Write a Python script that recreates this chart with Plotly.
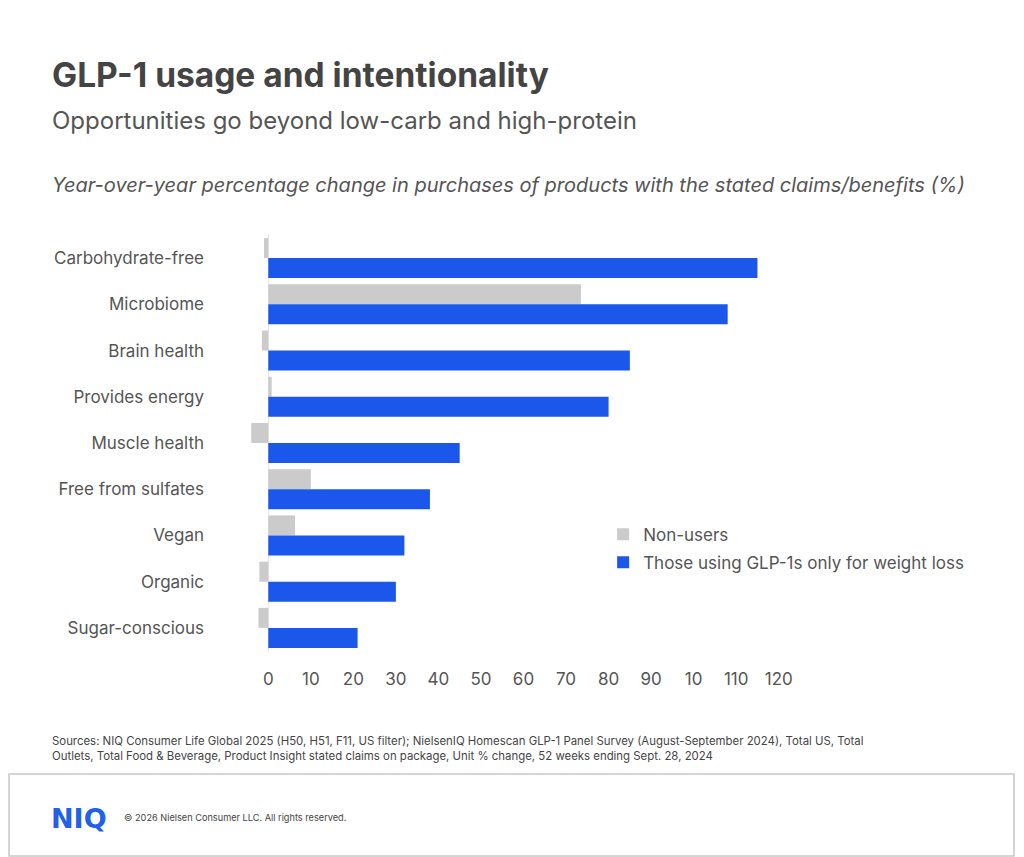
import plotly.graph_objects as go

# claims, top to bottom
categories = [
    "Carbohydrate-free",
    "Microbiome",
    "Brain health",
    "Provides energy",
    "Muscle health",
    "Free from sulfates",
    "Vegan",
    "Organic",
    "Sugar-conscious",
]
non_users = [-1, 73.5, -1.5, 0.8, -4, 10, 6.3, -2.1, -2.3]
glp1_weight_loss = [115, 108, 85, 80, 45, 38, 32, 30, 21]

tick_vals = [0, 10, 20, 30, 40, 50, 60, 70, 80, 90, 100, 110, 120]
tick_text = ["0", "10", "20", "30", "40", "50", "60", "70", "80", "90", "10", "110", "120"]

FONT = "Inter, Roboto, Arial, sans-serif"
GRAY_TXT = "#555555"

# plot area in screen pixels (page body adds an 8px offset)
PL, PB, PW, PH = 247, 651, 553, 416


def px(x):
    return (x - PL) / PW


def py(y):
    return (PB - y) / PH


fig = go.Figure()
fig.add_trace(go.Bar(
    y=categories, x=non_users, orientation="h", name="Non-users",
    legendgroup="a",
    marker=dict(color="#cbcbcb", line=dict(width=0)),
))
fig.add_trace(go.Bar(
    y=categories, x=glp1_weight_loss, orientation="h",
    name="Those using GLP-1s only for weight loss",
    legendgroup="b",
    marker=dict(color="#1a57ea", line=dict(width=0)),
))

fig.update_layout(
    width=1024,
    height=857,
    margin=dict(l=PL - 8, r=1024 - (PL - 8) - PW, t=235 - 8, b=857 - (PB - 8)),
    paper_bgcolor="white",
    plot_bgcolor="white",
    barmode="group",
    bargap=0.135,
    bargroupgap=0,
    font=dict(family=FONT, color=GRAY_TXT, size=17),
    showlegend=True,
    legend=dict(
        x=0.644, y=0.323, xanchor="left", yanchor="top",
        font=dict(size=17, color=GRAY_TXT),
        itemwidth=30, tracegroupgap=3,
        bgcolor="rgba(0,0,0,0)",
    ),
)

fig.update_xaxes(
    range=[-5, 125],
    tickvals=tick_vals,
    ticktext=tick_text,
    showgrid=False,
    zeroline=True,
    zerolinecolor="#e4e4e4",
    zerolinewidth=1,
    showline=False,
    ticks="",
    ticklabelstandoff=16,
    tickfont=dict(size=17, color=GRAY_TXT),
    fixedrange=True,
)
fig.update_yaxes(
    autorange="reversed",
    showgrid=False,
    showline=False,
    ticks="",
    ticklabelstandoff=42,
    tickfont=dict(size=17, color=GRAY_TXT),
    fixedrange=True,
)

# header texts
headers = [
    ("<b>GLP-1 usage and intentionality</b>", 75, 33.5, "#444444"),
    ("Opportunities go beyond low-carb and high-protein", 120, 24, GRAY_TXT),
    ("<i>Year-over-year percentage change in purchases of products with the stated claims/benefits (%)</i>",
     185, 20, GRAY_TXT),
]
for txt, ypx, size, color in headers:
    fig.add_annotation(
        text=txt, xref="paper", yref="paper",
        x=px(50), y=py(ypx),
        xanchor="left", yanchor="middle", showarrow=False,
        font=dict(size=size, color=color, family=FONT),
    )

# footer
fig.add_annotation(
    text=("Sources: NIQ Consumer Life Global 2025 (H50, H51, F11, US filter); NielsenIQ Homescan GLP-1 Panel Survey "
          "(August-September 2024), Total US, Total<br>Outlets, Total Food &amp; Beverage, Product Insight stated claims "
          "on package, Unit % change, 52 weeks ending Sept. 28, 2024"),
    xref="paper", yref="paper", x=px(50), y=py(748),
    xanchor="left", yanchor="middle", align="left", showarrow=False,
    font=dict(size=11.4, color="#444444", family=FONT),
)
fig.add_shape(
    type="rect", xref="paper", yref="paper",
    x0=px(9), x1=px(1014),
    y0=py(856), y1=py(774),
    line=dict(color="#c8c8c8", width=1.5), fillcolor="white",
)
fig.add_annotation(
    text="<b>NIQ</b>", xref="paper", yref="paper",
    x=px(49), y=py(818),
    xanchor="left", yanchor="middle", showarrow=False,
    font=dict(size=27, color="#2160e8", family="DejaVu Sans, Arial, sans-serif"),
)
fig.add_annotation(
    text="© 2026 Nielsen Consumer LLC. All rights reserved.", xref="paper", yref="paper",
    x=px(122), y=py(817),
    xanchor="left", yanchor="middle", showarrow=False,
    font=dict(size=9.2, color="#444444", family=FONT),
)

fig.write_html("out.html")
